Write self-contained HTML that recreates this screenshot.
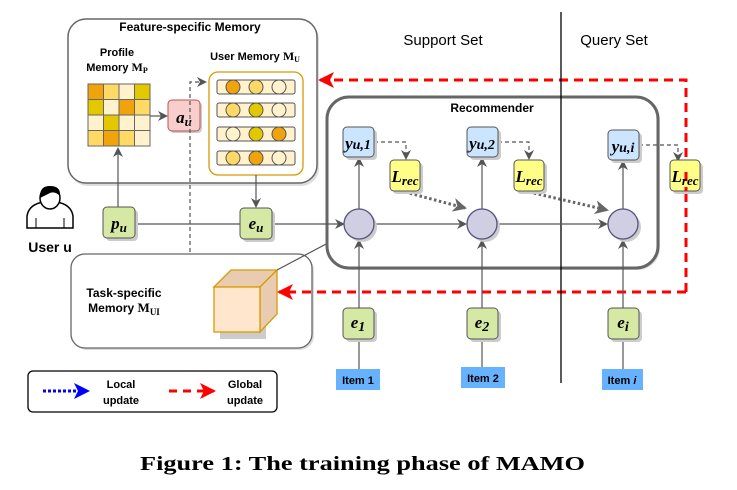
<!DOCTYPE html>
<html><head><meta charset="utf-8"><style>
body{margin:0;background:#fff}
svg{display:block}
text{font-family:"Liberation Sans",sans-serif}
.m{font-family:"Liberation Serif",serif;font-style:italic;font-weight:bold}
.s{font-family:"Liberation Serif",serif}
</style></head><body>
<svg width="737" height="490" viewBox="0 0 737 490" xmlns="http://www.w3.org/2000/svg">
<defs>
<marker id="ag" markerWidth="10" markerHeight="10" refX="8" refY="5" orient="auto" markerUnits="userSpaceOnUse"><path d="M0,0 L10,5 L0,10 L3,5z" fill="#555"/></marker>
<marker id="ar" markerWidth="16" markerHeight="16" refX="14" refY="8" orient="auto" markerUnits="userSpaceOnUse"><path d="M0,0 L16,8 L0,16 L4,8z" fill="#f00"/></marker>
<marker id="ab" markerWidth="16" markerHeight="16" refX="14" refY="8" orient="auto" markerUnits="userSpaceOnUse"><path d="M0,0 L16,8 L0,16 L4,8z" fill="#00f"/></marker>
<marker id="ad" markerWidth="14" markerHeight="14" refX="12" refY="7" orient="auto" markerUnits="userSpaceOnUse"><path d="M0,0 L14,7 L0,14 L4,7z" fill="#666"/></marker>
</defs>

<rect x="70" y="21" width="249" height="165" rx="18" fill="#ddd"/>
<rect x="68" y="19" width="249" height="164" rx="18" fill="#fff" stroke="#666" stroke-width="1.5"/>
<text x="190" y="31" font-size="12" font-weight="bold" text-anchor="middle">Feature-specific Memory</text>
<text x="117" y="56" font-size="11" font-weight="bold" text-anchor="middle">Profile</text>
<text x="117" y="71" font-size="11" font-weight="bold" text-anchor="middle">Memory <tspan class="s" font-size="12">M</tspan><tspan class="s" font-size="8" dy="2">P</tspan></text>
<text x="255" y="60" font-size="11" font-weight="bold" text-anchor="middle">User Memory <tspan class="s" font-size="12">M</tspan><tspan class="s" font-size="8" dy="2">U</tspan></text>
<g stroke="#666" stroke-width="1">
<rect x="88" y="84" width="15.5" height="15.5" fill="#f0a30a"/><rect x="103.5" y="84" width="15.5" height="15.5" fill="#ffd966"/><rect x="119" y="84" width="15.5" height="15.5" fill="#fff2cc"/><rect x="134.5" y="84" width="15.5" height="15.5" fill="#e3c800"/>
<rect x="88" y="99.5" width="15.5" height="15.5" fill="#e3c800"/><rect x="103.5" y="99.5" width="15.5" height="15.5" fill="#fff2cc"/><rect x="119" y="99.5" width="15.5" height="15.5" fill="#f0a30a"/><rect x="134.5" y="99.5" width="15.5" height="15.5" fill="#ffd966"/>
<rect x="88" y="115" width="15.5" height="15.5" fill="#fff2cc"/><rect x="103.5" y="115" width="15.5" height="15.5" fill="#e3c800"/><rect x="119" y="115" width="15.5" height="15.5" fill="#fff2cc"/><rect x="134.5" y="115" width="15.5" height="15.5" fill="#fff2cc"/>
<rect x="88" y="130.5" width="15.5" height="15.5" fill="#ffd966"/><rect x="103.5" y="130.5" width="15.5" height="15.5" fill="#f0a30a"/><rect x="119" y="130.5" width="15.5" height="15.5" fill="#ffd966"/><rect x="134.5" y="130.5" width="15.5" height="15.5" fill="#fff2cc"/>
</g>
<line x1="150" y1="116" x2="166" y2="116" stroke="#555" stroke-width="1.2" marker-end="url(#ag)"/>
<rect x="170" y="102" width="32" height="31" rx="4" fill="#ccc"/>
<rect x="168" y="100" width="32" height="31" rx="4" fill="#f8cecc" stroke="#b85450"/>
<text x="184" y="123" class="m" font-size="17" text-anchor="middle">a<tspan font-size="13" dy="3">u</tspan></text>
<rect x="209" y="72" width="94" height="103" rx="9" fill="#fff" stroke="#d79b00" stroke-width="1.3"/>
<g stroke="#555" stroke-width="1">
<rect x="217" y="80" width="78" height="14" rx="2" fill="#fff2cc"/>
<rect x="217" y="103" width="78" height="14" rx="2" fill="#fff2cc"/>
<rect x="217" y="127" width="78" height="14" rx="2" fill="#fff2cc"/>
<rect x="217" y="151" width="78" height="14" rx="2" fill="#fff2cc"/>
<circle cx="233" cy="87" r="7" fill="#f0a30a"/><circle cx="256" cy="87" r="7" fill="#ffd966"/><circle cx="279" cy="87" r="7" fill="#fff2cc"/>
<circle cx="233" cy="110" r="7" fill="#ffd966"/><circle cx="256" cy="110" r="7" fill="#e3c800"/><circle cx="279" cy="110" r="7" fill="#fff2cc"/>
<circle cx="233" cy="134" r="7" fill="#fff2cc"/><circle cx="256" cy="134" r="7" fill="#e3c800"/><circle cx="279" cy="134" r="7" fill="#f0a30a"/>
<circle cx="233" cy="158" r="7" fill="#ffd966"/><circle cx="256" cy="158" r="7" fill="#f0a30a"/><circle cx="279" cy="158" r="7" fill="#fff2cc"/>
</g>
<path d="M190,308 L190,82 L205,82" fill="none" stroke="#555" stroke-width="1.2" stroke-dasharray="4,3" marker-end="url(#ag)"/>
<path d="M190,300 L190,309 L211,309" fill="none" stroke="#555" stroke-width="1.2" stroke-dasharray="4,3" marker-end="url(#ag)"/>

<rect x="73" y="256" width="241" height="94" rx="14" fill="#ddd"/>
<rect x="71" y="254" width="241" height="94" rx="14" fill="#fff" stroke="#666" stroke-width="1.3"/>
<text x="124" y="297" font-size="12" font-weight="bold" text-anchor="middle">Task-specific</text>
<text x="124" y="312" font-size="12" font-weight="bold" text-anchor="middle">Memory <tspan class="s" font-size="13">M</tspan><tspan class="s" font-size="9" dy="3">UI</tspan></text>
<path d="M217,291 L263,291 L263,336 L217,336z" fill="#ccc" transform="translate(3,3)"/>
<path d="M214,287 L231,270 L277,270 L277,314 L260,332 L260,287z" fill="#e8cbb0" stroke="#d79b00" stroke-width="1.3"/>
<rect x="214" y="287" width="46" height="45" fill="#ffe6cc" stroke="#d79b00" stroke-width="1.3"/>
<line x1="260" y1="287" x2="277" y2="270" stroke="#d79b00" stroke-width="1.3"/>
<line x1="277" y1="270" x2="345" y2="234" stroke="#555" stroke-width="1.2" marker-end="url(#ag)"/>

<rect x="329" y="99" width="331" height="171" rx="22" fill="#ddd"/>
<rect x="327" y="97" width="331" height="171" rx="22" fill="#fff" stroke="#666" stroke-width="3"/>
<text x="492" y="112" font-size="12" font-weight="bold" text-anchor="middle">Recommender</text>

<g transform="translate(26,186)">
<path d="M1,42 L1,30 Q3,18 18,16 L30,16 Q45,18 47,30 L47,42z" fill="#fff" stroke="#000" stroke-width="1.5"/>
<ellipse cx="24" cy="12" rx="10" ry="11" fill="#fff" stroke="#000" stroke-width="1.5"/>
<path d="M14,10 Q14,0 24,0 Q35,0 34,10 Q28,4 22,8 Q18,10 14,12z" fill="#000"/>
<line x1="10" y1="32" x2="10" y2="42" stroke="#000"/><line x1="38" y1="32" x2="38" y2="42" stroke="#000"/>
</g>
<text x="50" y="252" font-size="14" font-weight="bold" text-anchor="middle">User u</text>

<line x1="118" y1="207" x2="118" y2="149" stroke="#555" stroke-width="1.2" marker-end="url(#ag)"/>
<line x1="256" y1="175" x2="256" y2="206" stroke="#555" stroke-width="1.2" marker-end="url(#ag)"/>
<line x1="135" y1="224" x2="343" y2="224" stroke="#555" stroke-width="1.2" marker-end="url(#ag)"/>
<rect x="106" y="210" width="32" height="31" rx="4" fill="#ccc"/>
<rect x="103" y="207" width="32" height="31" rx="4" fill="#d5e8a4" stroke="#555"/>
<text x="119" y="229" class="m" font-size="17" text-anchor="middle">p<tspan font-size="13" dy="3">u</tspan></text>
<rect x="243" y="211" width="32" height="31" rx="4" fill="#ccc"/>
<rect x="240" y="208" width="32" height="31" rx="4" fill="#d5e8a4" stroke="#555"/>
<text x="256" y="229" class="m" font-size="17" text-anchor="middle">e<tspan font-size="13" dy="3">u</tspan></text>

<path d="M686,292 L686,80 L320,80" fill="none" stroke="#f00" stroke-width="3" stroke-dasharray="9,6" marker-end="url(#ar)"/>
<path d="M686,292 L279,292" fill="none" stroke="#f00" stroke-width="3" stroke-dasharray="9,6" marker-end="url(#ar)"/>

<text x="443" y="45" font-size="15" text-anchor="middle">Support Set</text>
<text x="614" y="45" font-size="15" text-anchor="middle">Query Set</text>
<line x1="561" y1="12" x2="561" y2="383" stroke="#000" stroke-width="1.3"/>

<line x1="374" y1="224" x2="465" y2="224" stroke="#555" stroke-width="1.2" marker-end="url(#ag)"/>
<line x1="497" y1="224" x2="606" y2="224" stroke="#555" stroke-width="1.2" marker-end="url(#ag)"/>
<g stroke="#555" stroke-width="1.2">
<line x1="359" y1="209" x2="359" y2="159" marker-end="url(#ag)"/>
<line x1="482" y1="209" x2="482" y2="159" marker-end="url(#ag)"/>
<line x1="623" y1="209" x2="623" y2="162" marker-end="url(#ag)"/>
<line x1="359" y1="308" x2="359" y2="241" marker-end="url(#ag)"/>
<line x1="482" y1="308" x2="482" y2="241" marker-end="url(#ag)"/>
<line x1="623" y1="308" x2="623" y2="241" marker-end="url(#ag)"/>
<line x1="359" y1="339" x2="359" y2="369"/>
<line x1="482" y1="339" x2="482" y2="367"/>
<line x1="623" y1="339" x2="623" y2="369"/>
</g>
<g stroke="#555" stroke-width="1.2" fill="none" stroke-dasharray="4,3">
<path d="M374,142 L406,142 L406,158" marker-end="url(#ag)"/>
<path d="M498,142 L529,142 L529,158" marker-end="url(#ag)"/>
<path d="M639,145 L678,145 L678,160" marker-end="url(#ag)"/>
</g>
<g stroke="#666" stroke-width="3" stroke-dasharray="2.5,2.5" fill="none">
<line x1="405" y1="192" x2="465" y2="208" marker-end="url(#ad)"/>
<line x1="529" y1="192" x2="607" y2="210" marker-end="url(#ad)"/>
</g>
<g fill="#d0cee2" stroke="#56517e" stroke-width="1.3">
<circle cx="362" cy="227" r="15" fill="#ccc" stroke="none"/><circle cx="359" cy="224" r="15"/>
<circle cx="485" cy="227" r="15" fill="#ccc" stroke="none"/><circle cx="482" cy="224" r="15"/>
<circle cx="626" cy="227" r="15" fill="#ccc" stroke="none"/><circle cx="623" cy="224" r="15"/>
</g>
<g>
<rect x="346" y="130" width="31" height="30" rx="4" fill="#ccc"/><rect x="343" y="127" width="31" height="30" rx="4" fill="#cce5ff" stroke="#555"/>
<rect x="470" y="130" width="31" height="30" rx="4" fill="#ccc"/><rect x="467" y="127" width="31" height="30" rx="4" fill="#cce5ff" stroke="#555"/>
<rect x="611" y="133" width="31" height="30" rx="4" fill="#ccc"/><rect x="608" y="130" width="31" height="30" rx="4" fill="#cce5ff" stroke="#555"/>
</g>
<text x="358" y="149" class="m" font-size="17" text-anchor="middle">y<tspan font-size="14">u,1</tspan></text>
<text x="482" y="149" class="m" font-size="17" text-anchor="middle">y<tspan font-size="14">u,2</tspan></text>
<text x="623" y="152" class="m" font-size="17" text-anchor="middle">y<tspan font-size="14">u,i</tspan></text>
<g>
<rect x="393" y="163" width="30" height="31" rx="4" fill="#ccc"/><rect x="390" y="160" width="30" height="31" rx="4" fill="#ffff88" stroke="#555"/>
<rect x="517" y="163" width="30" height="31" rx="4" fill="#ccc"/><rect x="514" y="160" width="30" height="31" rx="4" fill="#ffff88" stroke="#555"/>
<rect x="673" y="163" width="30" height="31" rx="4" fill="#ccc"/><rect x="670" y="160" width="30" height="31" rx="4" fill="#ffff88" stroke="#555"/>
</g>
<line x1="686" y1="172" x2="686" y2="191" stroke="#f00" stroke-width="3" stroke-dasharray="9,6"/>
<text x="405" y="182" class="m" font-size="17" text-anchor="middle">L<tspan font-size="13" dy="3">rec</tspan></text>
<text x="529" y="182" class="m" font-size="17" text-anchor="middle">L<tspan font-size="13" dy="3">rec</tspan></text>
<text x="685" y="182" class="m" font-size="17" text-anchor="middle">L<tspan font-size="13" dy="3">rec</tspan></text>
<g>
<rect x="346" y="311" width="31" height="31" rx="4" fill="#ccc"/><rect x="343" y="308" width="31" height="31" rx="4" fill="#d5e8a4" stroke="#555"/>
<rect x="470" y="311" width="31" height="31" rx="4" fill="#ccc"/><rect x="467" y="308" width="31" height="31" rx="4" fill="#d5e8a4" stroke="#555"/>
<rect x="611" y="311" width="31" height="31" rx="4" fill="#ccc"/><rect x="608" y="308" width="31" height="31" rx="4" fill="#d5e8a4" stroke="#555"/>
</g>
<text x="358" y="328" class="m" font-size="17" text-anchor="middle">e<tspan font-size="14" dy="3">1</tspan></text>
<text x="482" y="328" class="m" font-size="17" text-anchor="middle">e<tspan font-size="14" dy="3">2</tspan></text>
<text x="623" y="328" class="m" font-size="17" text-anchor="middle">e<tspan font-size="14" dy="3">i</tspan></text>
<rect x="336" y="369" width="44" height="21" fill="#66b2ff"/>
<rect x="461" y="367" width="44" height="21" fill="#66b2ff"/>
<rect x="602" y="369" width="41" height="21" fill="#66b2ff"/>
<text x="358" y="384" font-size="11" font-weight="bold" text-anchor="middle">Item 1</text>
<text x="483" y="382" font-size="11" font-weight="bold" text-anchor="middle">Item 2</text>
<text x="622" y="384" font-size="11" font-weight="bold" text-anchor="middle">Item <tspan font-style="italic">i</tspan></text>

<rect x="28" y="371" width="249" height="41" rx="5" fill="#fff" stroke="#000" stroke-width="1.3"/>
<line x1="43" y1="391" x2="88" y2="391" stroke="#00f" stroke-width="3" stroke-dasharray="3,2" marker-end="url(#ab)"/>
<text x="121" y="388" font-size="11" font-weight="bold" text-anchor="middle">Local</text>
<text x="121" y="404" font-size="11" font-weight="bold" text-anchor="middle">update</text>
<line x1="169" y1="391" x2="214" y2="391" stroke="#f00" stroke-width="3" stroke-dasharray="8,6" marker-end="url(#ar)"/>
<text x="245" y="388" font-size="11" font-weight="bold" text-anchor="middle">Global</text>
<text x="245" y="404" font-size="11" font-weight="bold" text-anchor="middle">update</text>

<text x="140" y="470" style="font-family:'Liberation Serif',serif;font-size:20px;font-weight:bold" textLength="445" lengthAdjust="spacingAndGlyphs">Figure 1: The training phase of MAMO</text>
</svg>
</body></html>
